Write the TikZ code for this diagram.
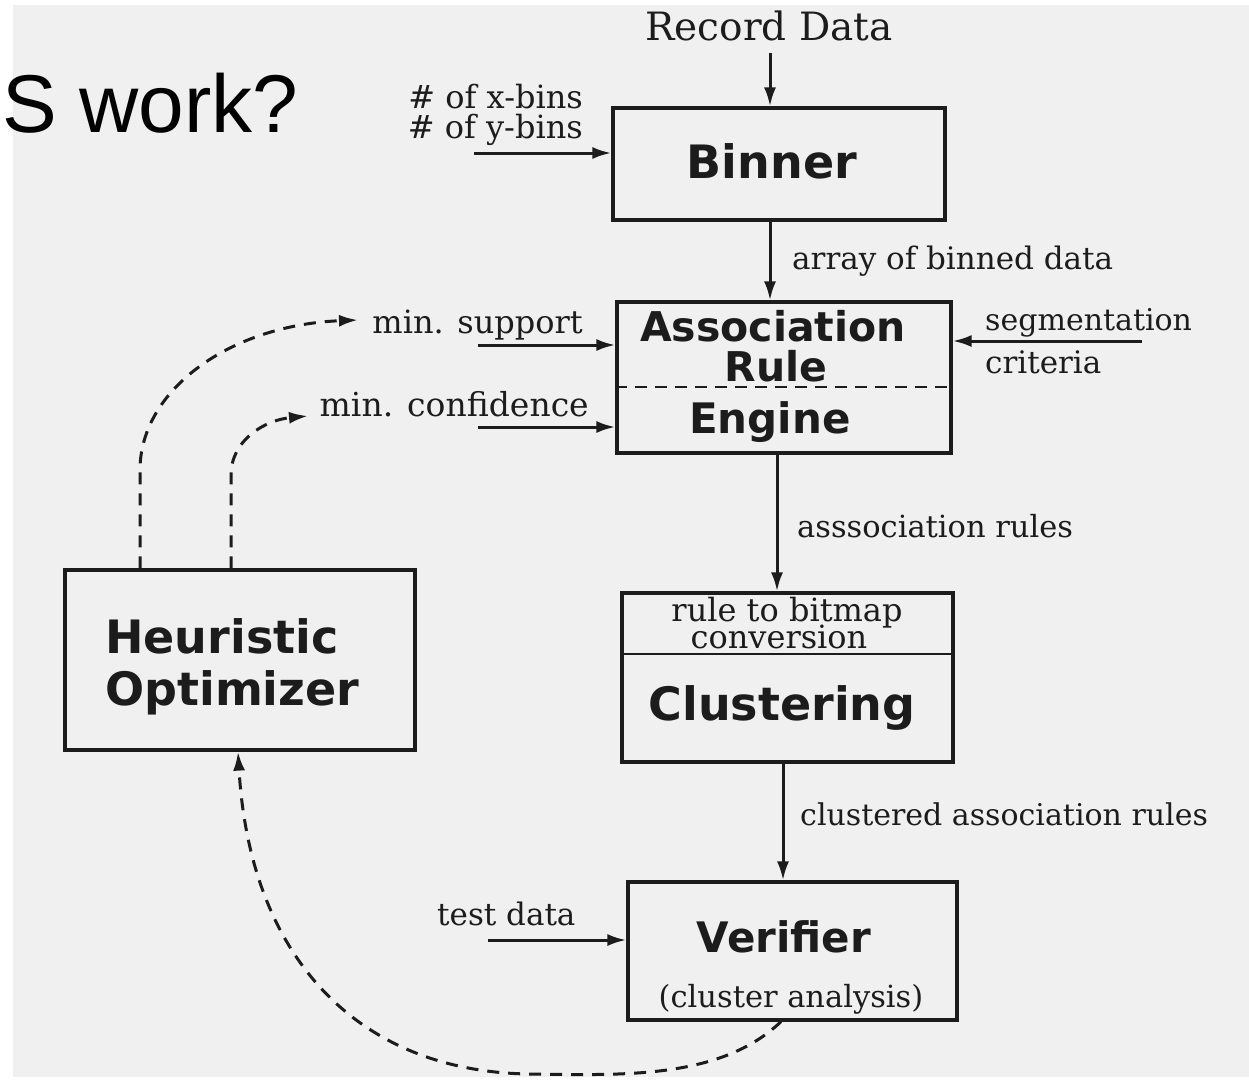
\documentclass[tikz,border=0pt]{standalone}
\usepackage{fontspec}
\setmainfont{DejaVu Serif}
\newfontfamily\boxfont{DejaVu Sans}
\newfontfamily\titlefont{Liberation Sans}
\usetikzlibrary{arrows.meta}
\definecolor{ink}{HTML}{1C1C1C}
\definecolor{paper}{HTML}{F0F0F0}
\begin{document}
\begin{tikzpicture}[x=1pt,y=-1pt,
  box/.style={draw=ink, line width=3.2pt, inner sep=0pt, rectangle},
  arr/.style={draw=ink, line width=3pt, -{Latex[length=19pt,width=12pt]}},
  darr/.style={draw=ink, line width=3pt, dash pattern=on 12pt off 9pt, -{Latex[length=19pt,width=12pt]}},
  bigtxt/.style={font=\boxfont\bfseries\fontsize{46}{50}\selectfont, text=ink, anchor=base, inner sep=0pt},
  midtxt/.style={font=\boxfont\bfseries\fontsize{42}{46}\selectfont, text=ink, anchor=base, inner sep=0pt},
  lbl/.style={font=\fontsize{31}{34}\selectfont, text=ink, inner sep=0pt}
]
\useasboundingbox (0,0) rectangle (1249,1088);
\fill[white] (0,0) rectangle (1249,1088);
\fill[paper] (13,5) rectangle (1249,1077);

% title fragment
\node[font=\titlefont\fontsize{82}{90}\selectfont, anchor=base west, inner sep=0pt] (title) at (2,132) {S work?};

% boxes
\node[box, minimum width=332, minimum height=112] (binner) at (779,164) {};
\node[box, minimum width=334, minimum height=151] (assoc) at (784,377.5) {};
\node[box, minimum width=331, minimum height=169] (clust) at (787.5,677.5) {};
\node[box, minimum width=329, minimum height=138] (verif) at (792.5,951) {};
\node[box, minimum width=350, minimum height=180] (heur) at (240,660) {};

% dividers
\draw[ink, line width=2.8pt, dash pattern=on 12pt off 8pt] (assoc.west |- 0,387) -- (assoc.east |- 0,387);
\draw[ink, line width=2.8pt] (clust.west |- 0,654) -- (clust.east |- 0,654);

% box texts
\node[bigtxt] (tbinner) at (772,178) {Binner};
\node[midtxt, font=\boxfont\bfseries\fontsize{41}{46}\selectfont, text depth=0pt] (tassoc1) at (773,341) {Association};
\node[midtxt, font=\boxfont\bfseries\fontsize{41}{46}\selectfont] (tassoc2) at (776,381) {Rule};
\node[midtxt] (tassoc3) at (770,433) {Engine};
\node[lbl, font=\fontsize{32}{34}\selectfont, anchor=base, text depth=0pt] (tconv1) at (787,621) {rule to bitmap};
\node[lbl, font=\fontsize{32}{34}\selectfont, anchor=base, text height=21pt] (tconv2) at (779,648) {conversion};
\node[bigtxt] (tclust) at (782,720) {Clustering};
\node[midtxt] (tverif) at (784,952) {Verifier};
\node[lbl, font=\fontsize{30.5}{34}\selectfont, anchor=base] (tverif2) at (791,1007) {(cluster analysis)};
\node[bigtxt, anchor=base west] (theur1) at (105,653) {Heuristic};
\node[bigtxt, anchor=base west] (theur2) at (105,705) {Optimizer};

% labels
\node[lbl, font=\fontsize{39}{42}\selectfont, anchor=base] (lrec) at (769,40) {Record Data};
\node[lbl, font=\fontsize{32}{34}\selectfont, anchor=base east, text depth=0pt] (lxb) at (583,108) {\# of x-bins};
\node[lbl, font=\fontsize{32}{34}\selectfont, anchor=base east, text height=23pt] (lyb) at (583,138) {\# of y-bins};
\node[lbl, anchor=base west] (larr) at (792,269) {array of binned data};
\node[lbl, font=\fontsize{32}{34}\selectfont, anchor=base east] (lsup) at (583,333) {min. support};
\node[lbl, font=\fontsize{33}{34}\selectfont, anchor=base east] (lconf) at (589,416) {min. confidence};
\node[lbl, font=\fontsize{30}{34}\selectfont, anchor=base west] (lseg) at (985,330) {segmentation};
\node[lbl, anchor=base west] (lcrit) at (985,373) {criteria};
\node[lbl, font=\fontsize{30.5}{34}\selectfont, anchor=base west] (lar) at (797,537) {asssociation rules};
\node[lbl, font=\fontsize{30}{34}\selectfont, anchor=base west] (lcar) at (800,825) {clustered association rules};
\node[lbl, anchor=base west] (ltest) at (437,925) {test data};

% free ends
\coordinate (recsrc) at (770,53);
\coordinate (binsrc) at (474,153);
\coordinate (supsrc) at (478,345);
\coordinate (confsrc) at (478,427);
\coordinate (segsrc) at (1142,341);
\coordinate (testsrc) at (488,940);
\coordinate (colA) at (770,0);
\coordinate (colB) at (777,0);
\coordinate (colC) at (783,0);
\coordinate (supdst) at (358,320);
\coordinate (confdst) at (308,416);

% solid arrows
\draw[arr] (recsrc) -- (binner.north -| recsrc);
\draw[arr] (binsrc) -- (binner.west |- binsrc);
\draw[arr] (binner.south -| colA) -- (assoc.north -| colA);
\draw[arr] (supsrc) -- (assoc.west |- supsrc);
\draw[arr] (confsrc) -- (assoc.west |- confsrc);
\draw[arr] (segsrc) -- (assoc.east |- segsrc);
\draw[arr] (assoc.south -| colB) -- (clust.north -| colB);
\draw[arr] (clust.south -| colC) -- (verif.north -| colC);
\draw[arr] (testsrc) -- (verif.west |- testsrc);

% dashed feedback
\draw[darr] (heur.north -| 140,0) -- (140,470) .. controls (140,390) and (230,325) .. (supdst);
\draw[darr] (heur.north -| 231,0) -- (231,475) .. controls (231,440) and (265,420) .. (confdst);
\draw[darr] (verif.south -| 781,0) .. controls (720,1080) and (620,1075) .. (530,1074)
   .. controls (360,1072) and (250,960) .. (heur.south -| 238,0);
\end{tikzpicture}
\end{document}
